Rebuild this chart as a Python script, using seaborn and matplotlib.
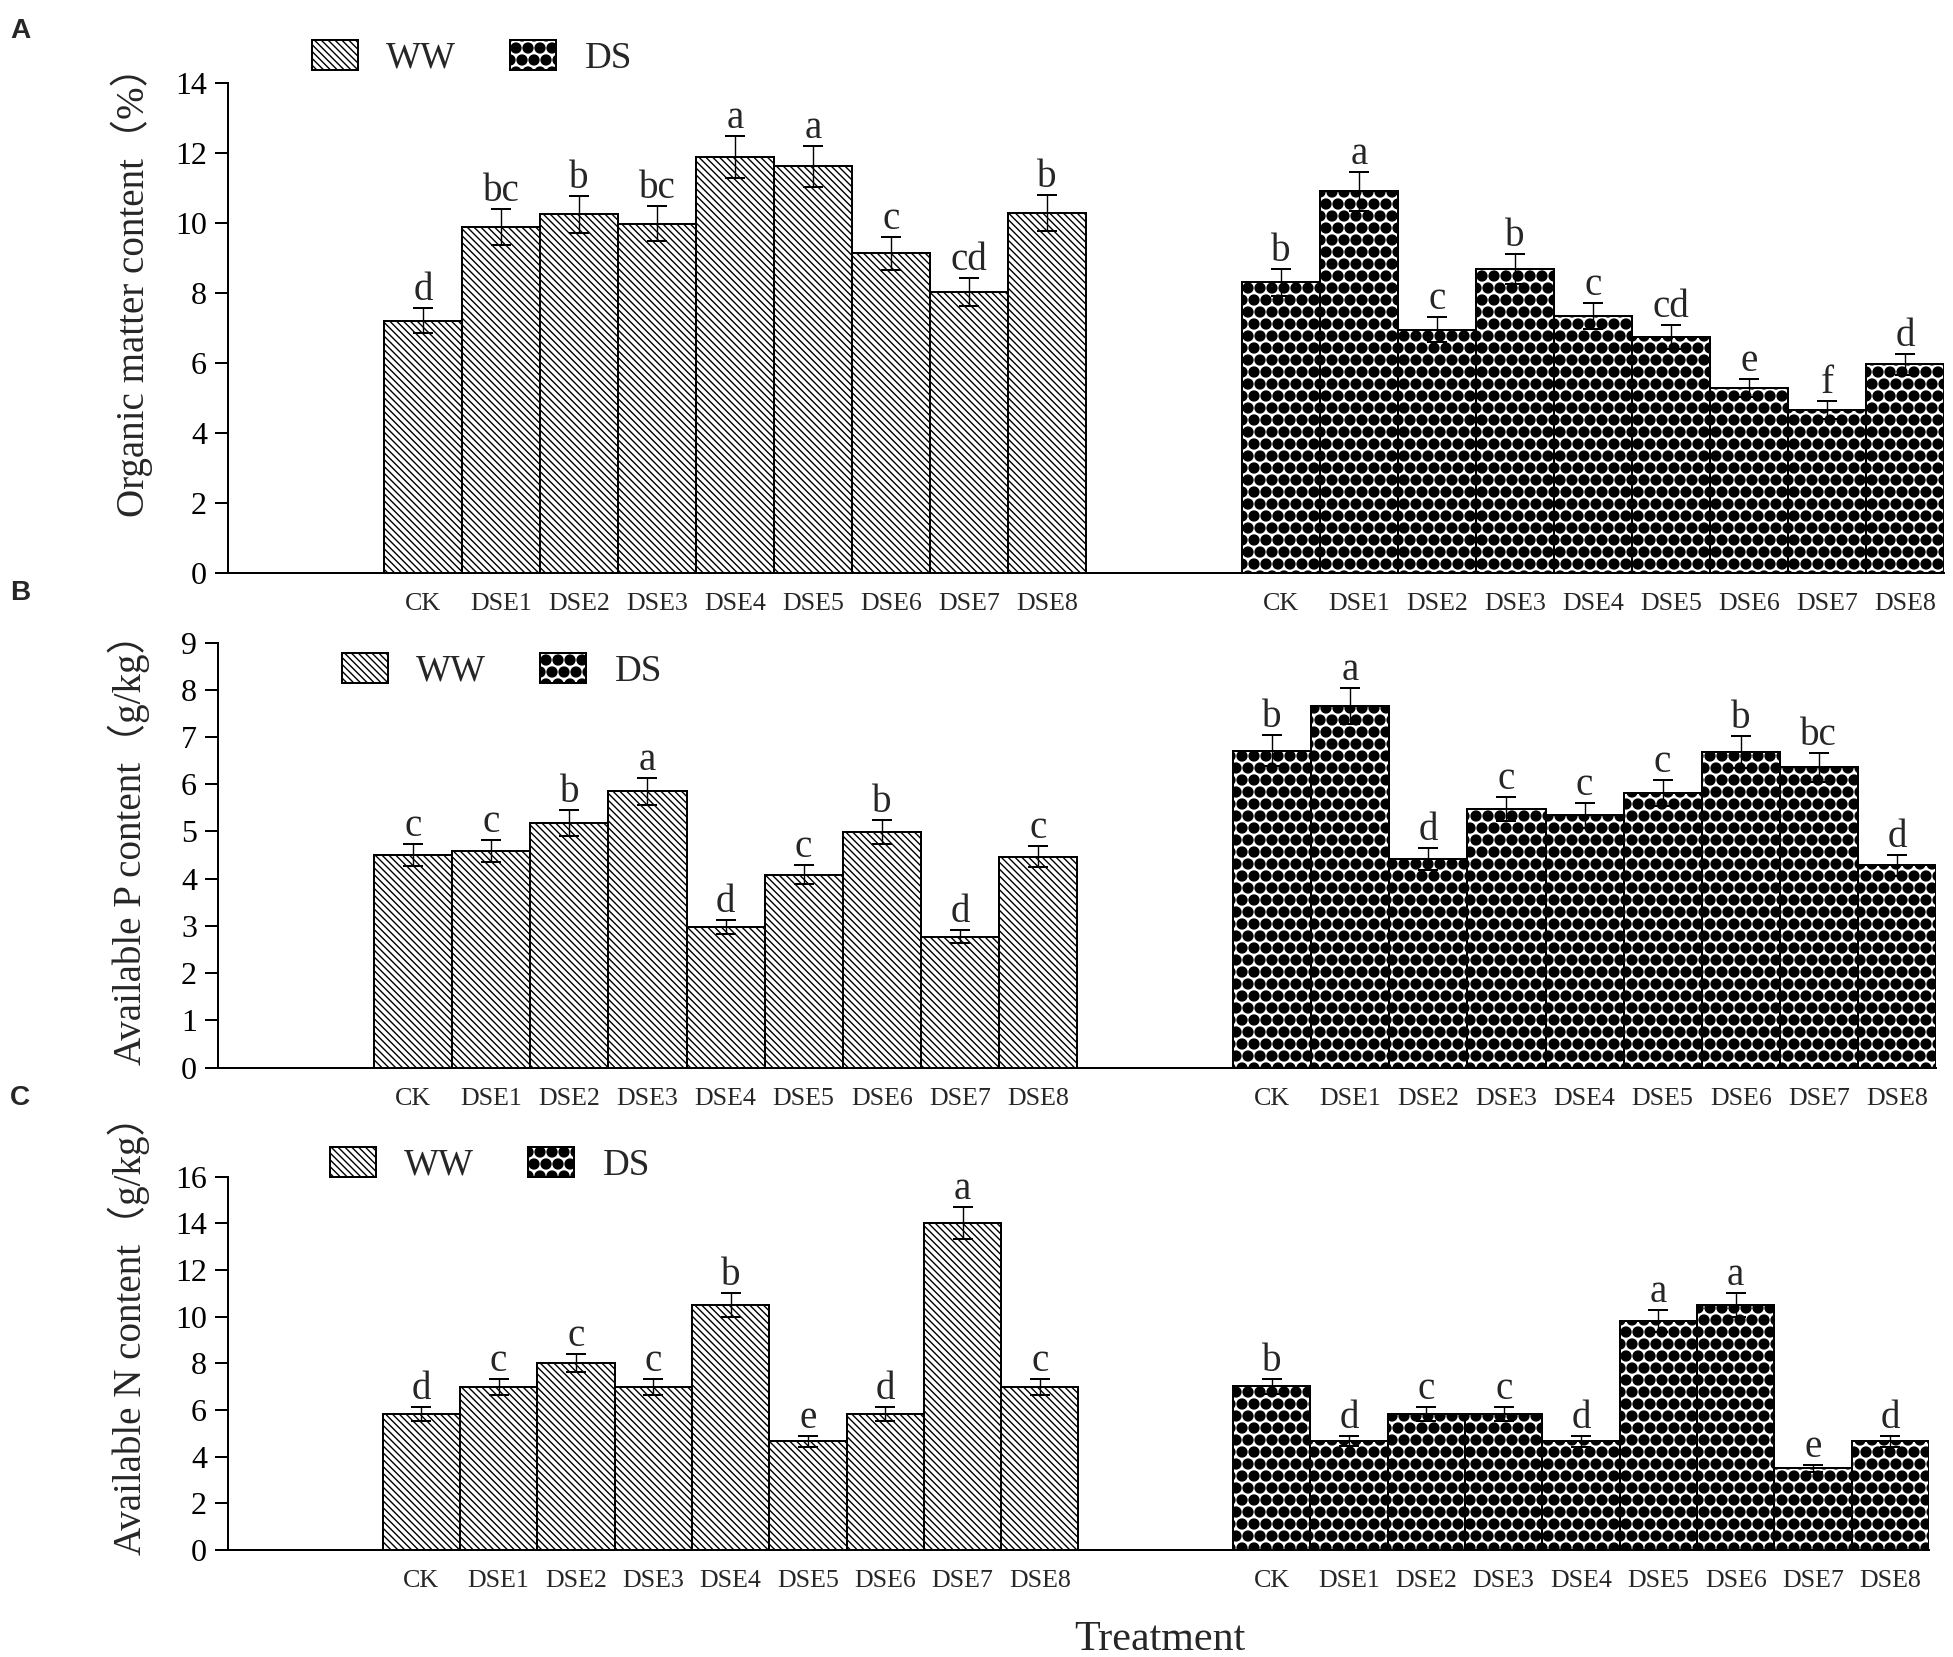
import numpy as np
import pandas as pd
import seaborn as sns
import matplotlib.pyplot as plt
import matplotlib.hatch as mhatch
import matplotlib.patches as mpatches

# treatments and values (mean, error, letter)
treatments = ["CK", "DSE1", "DSE2", "DSE3", "DSE4", "DSE5", "DSE6", "DSE7", "DSE8"]

om_ww = [7.22, 9.90, 10.26, 9.99, 11.89, 11.63, 9.14, 8.03, 10.29]
om_ww_err = [0.36, 0.51, 0.53, 0.50, 0.60, 0.59, 0.48, 0.40, 0.52]
om_ww_sig = ["d", "bc", "b", "bc", "a", "a", "c", "cd", "b"]
om_ds = [8.31, 10.91, 6.96, 8.69, 7.35, 6.75, 5.30, 4.66, 5.97]
om_ds_err = [0.39, 0.55, 0.36, 0.43, 0.37, 0.34, 0.26, 0.25, 0.29]
om_ds_sig = ["b", "a", "c", "b", "c", "cd", "e", "f", "d"]

p_ww = [4.50, 4.58, 5.18, 5.85, 2.97, 4.08, 4.99, 2.77, 4.47]
p_ww_err = [0.23, 0.23, 0.27, 0.28, 0.15, 0.20, 0.25, 0.14, 0.23]
p_ww_sig = ["c", "c", "b", "a", "d", "c", "b", "d", "c"]
p_ds = [6.71, 7.65, 4.42, 5.48, 5.34, 5.81, 6.68, 6.36, 4.28]
p_ds_err = [0.33, 0.38, 0.23, 0.26, 0.27, 0.28, 0.34, 0.31, 0.22]
p_ds_sig = ["b", "a", "d", "c", "c", "c", "b", "bc", "d"]

n_ww = [5.83, 6.99, 8.01, 6.99, 10.50, 4.66, 5.83, 14.00, 6.99]
n_ww_err = [0.30, 0.36, 0.40, 0.36, 0.52, 0.24, 0.30, 0.69, 0.36]
n_ww_sig = ["d", "c", "c", "c", "b", "e", "d", "a", "c"]
n_ds = [7.02, 4.67, 5.83, 5.83, 4.66, 9.80, 10.50, 3.50, 4.66]
n_ds_err = [0.32, 0.23, 0.30, 0.30, 0.24, 0.47, 0.52, 0.15, 0.24]
n_ds_sig = ["b", "d", "c", "c", "d", "a", "a", "e", "d"]

DPI = 144
sns.set_style("ticks")
plt.rcParams["font.family"] = ["Liberation Serif", "Noto Sans CJK SC", "DejaVu Sans"]
plt.rcParams["hatch.linewidth"] = 0.7
# bigger filled dots for the DS texture
mhatch.SmallFilledCircles.size = 0.41

WW_HATCH = "\\" * 7
DS_HATCH = ".."

fig = plt.figure(figsize=(1953 / DPI, 1657 / DPI), dpi=DPI)

panels = [
    dict(rect=[0.11674, 0.65401, 0.87865, 0.29572], ymax=14, yticks=range(0, 15, 2),
         ylabel="Organic matter content（%）", lab=(-0.0435, 0.595),
         ww=(om_ww, om_ww_err, om_ww_sig), ds=(om_ds, om_ds_err, om_ds_sig),
         leg=(312, 58), letter=("A", 18)),
    dict(rect=[0.11162, 0.35564, 0.87967, 0.25661], ymax=9, yticks=range(0, 10),
         ylabel="Available P content（g/kg）", lab=(-0.0395, 0.536),
         ww=(p_ww, p_ww_err, p_ww_sig), ds=(p_ds, p_ds_err, p_ds_sig),
         leg=(342, 671), letter=("B", 580)),
    dict(rect=[0.11674, 0.06457, 0.87097, 0.22529], ymax=16, yticks=range(0, 17, 2),
         ylabel="Available N content（g/kg）", lab=(-0.0456, 0.60),
         ww=(n_ww, n_ww_err, n_ww_sig), ds=(n_ds, n_ds_err, n_ds_sig),
         leg=(330, 1165), letter=("C", 1085)),
]

pos_ww = np.arange(9) + 2.5
pos_ds = np.arange(9) + 13.5

for p in panels:
    ax = fig.add_axes(p["rect"])
    for pos, (vals, errs, sig), hatch in [(pos_ww, p["ww"], WW_HATCH),
                                          (pos_ds, p["ds"], DS_HATCH)]:
        df = pd.DataFrame({"pos": pos, "value": vals})
        sns.barplot(data=df, x="pos", y="value", native_scale=True, orient="x",
                    width=1, color="white", edgecolor="black", linewidth=1.0,
                    hatch=hatch, errorbar=None, saturation=1, ax=ax)
        ax.errorbar(pos, vals, yerr=errs, fmt="none", ecolor="black",
                    elinewidth=0.7, capsize=5, capthick=1.0)
        for x, v, e, s in zip(pos, vals, errs, sig):
            ax.annotate(s, (x, v + e), xytext=(0, 4), textcoords="offset points",
                        ha="center", va="baseline", fontsize=19.5)

    ax.set_xlim(0, 22)
    ax.set_ylim(0, p["ymax"])
    ax.set_yticks(list(p["yticks"]))
    ax.set_xticks(np.concatenate([pos_ww, pos_ds]))
    ax.set_xticklabels(treatments * 2)
    ax.tick_params(axis="x", length=0, pad=10, labelsize=13)
    ax.tick_params(axis="y", length=6.5, width=1, pad=4, labelsize=16, colors="black")
    ax.set_xlabel("")
    ax.set_ylabel(p["ylabel"], fontsize=19.5)
    ax.yaxis.set_label_coords(*p["lab"])
    sns.despine(ax=ax)
    for side in ["left", "bottom"]:
        ax.spines[side].set_linewidth(1.0)
        ax.spines[side].set_color("black")

    handles = [
        mpatches.Patch(facecolor="white", edgecolor="black", linewidth=1.0,
                       hatch=WW_HATCH, label="WW"),
        mpatches.Patch(facecolor="white", edgecolor="black", linewidth=1.0,
                       hatch=DS_HATCH, label="DS"),
    ]
    lx, ly = p["leg"]
    fig.legend(handles=handles, loc="center left", ncol=2, frameon=False,
               bbox_to_anchor=(lx / 1953, 1 - ly / 1657), bbox_transform=fig.transFigure,
               fontsize=18.5, handlelength=1.25, handleheight=0.87, handletextpad=0.76,
               columnspacing=1.45, borderpad=0, borderaxespad=0)

    letter, ty = p["letter"]
    fig.text(10 / 1953, 1 - ty / 1657, letter, ha="left", va="top", fontsize=14,
             fontweight="bold", family="Liberation Sans")

fig.text(1160 / 1953, 1 - 1650 / 1657, "Treatment", ha="center", va="baseline",
         fontsize=21)

fig.savefig("out.png", dpi=DPI)
